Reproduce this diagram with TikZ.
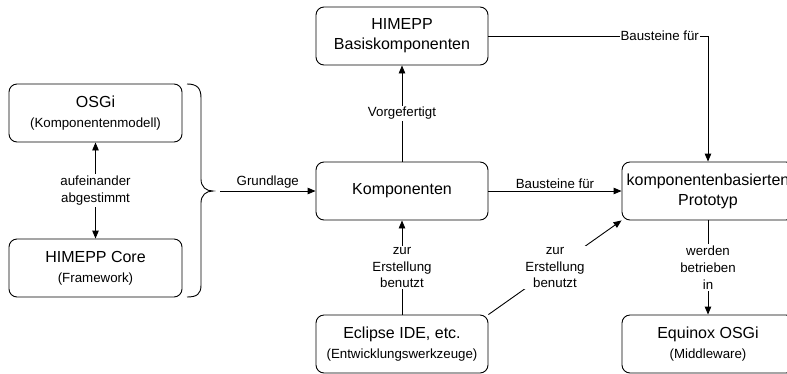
\documentclass[tikz,border=0pt]{standalone}
\usepackage{fontspec}
\setmainfont{Liberation Sans}
\usetikzlibrary{arrows.meta}
\newcommand{\bigtext}{\fontsize{16}{20}\selectfont}
\newcommand{\subtext}{\fontsize{13.3}{16.7}\selectfont}
\begin{document}
\begin{tikzpicture}[x=1pt, y=-1pt, line width=0.9pt,
  box/.style={draw, rounded corners=8pt, minimum width=172pt, minimum height=58pt, align=center, font=\bigtext},
  lbl/.style={fill=white, inner sep=1.5pt, align=center, font=\subtext},
  >={Triangle[length=8pt,width=6.5pt]}]
  \useasboundingbox (0,0) rectangle (787,373);
  \clip (0,0) rectangle (787,373);
  % boxes
  \node[box, minimum width=173pt] (osgi) at (95.5,113) {OSGi\\{\subtext (Komponentenmodell)}};
  \node[box, minimum width=173pt] (core) at (95.5,268) {HIMEPP Core\\{\subtext (Framework)}};
  \node[box] (basis) at (402,36) {HIMEPP\\Basiskomponenten};
  \node[box] (komp) at (402,191) {Komponenten};
  \node[box] (proto) at (708,191) {komponentenbasierten\\Prototyp};
  \node[box] (eclipse) at (402,344) {Eclipse IDE, etc.\\{\subtext (Entwicklungswerkzeuge)}};
  \node[box] (equinox) at (708,344) {Equinox OSGi\\{\subtext (Middleware)}};
  % brace
  \draw (187,84) .. controls (197,84) and (201,88) .. (201,98) -- (201,179)
    .. controls (201,187) and (206,191) .. (213,191)
    .. controls (206,191) and (201,195) .. (201,203) -- (201,285)
    .. controls (201,294) and (197,297) .. (187,297);
  \coordinate (grund) at (220,191);
  % connectors
  \draw[<->] (osgi) -- node[lbl] {aufeinander\\abgestimmt} (core);
  \draw[->] (grund) -- node[above, font=\subtext, inner sep=2pt] {Grundlage} (komp);
  \draw[->] (komp) -- node[lbl] {Vorgefertigt} (basis);
  \draw[->] (komp) -- node[above, font=\subtext, inner sep=2pt] {Bausteine für} (proto);
  \draw[->] (basis) -| node[lbl, pos=0.39, inner sep=1pt] {Bausteine für} (proto);
  \draw[->] (eclipse) -- node[lbl] {zur\\Erstellung\\benutzt} (komp);
  \draw[->] (eclipse.north east) -- node[lbl] {zur\\Erstellung\\benutzt} (proto.south west);
  \draw[->] (proto) -- node[lbl] {werden\\betrieben\\in} (equinox);
\end{tikzpicture}
\end{document}
